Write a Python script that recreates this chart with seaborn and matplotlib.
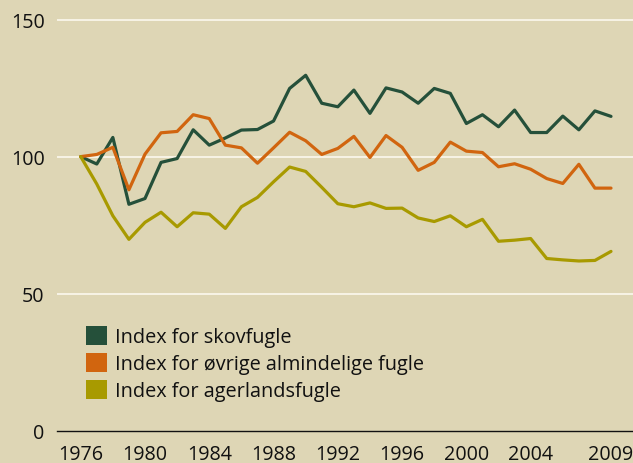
import matplotlib
matplotlib.use("Agg")
import matplotlib.pyplot as plt
from matplotlib.patches import Patch
import seaborn as sns
import pandas as pd

years = list(range(1976, 2010))
skovfugle = [100, 97.3, 107.0, 82.6, 84.7, 97.9, 99.3, 109.8, 104.2, 106.8,
             109.7, 109.9, 113.0, 124.9, 129.7, 119.5, 118.2, 124.3, 115.8, 125.1,
             123.6, 119.5, 124.9, 123.1, 112.1, 115.3, 110.9, 117.0, 108.8, 108.8,
             114.8, 109.8, 116.7, 114.7]
oevrige = [100, 100.8, 103.4, 87.9, 100.9, 108.7, 109.2, 115.3, 113.9, 104.2,
           103.2, 97.6, 103.2, 108.9, 105.8, 100.8, 103.0, 107.4, 99.7, 107.7,
           103.4, 95.0, 97.9, 105.3, 102.0, 101.5, 96.3, 97.4, 95.4, 92.0,
           90.2, 97.2, 88.5, 88.5]
agerland = [100, 90.0, 78.4, 69.8, 76.0, 79.7, 74.4, 79.5, 79.0, 73.8,
            81.7, 85.1, 90.8, 96.2, 94.6, 88.8, 82.8, 81.7, 83.1, 81.1,
            81.2, 77.6, 76.3, 78.4, 74.4, 77.1, 69.1, 69.5, 70.1, 62.8,
            62.3, 61.9, 62.1, 65.4]

series_labels = ["Index for skovfugle", "Index for øvrige almindelige fugle",
                 "Index for agerlandsfugle"]
colors = ["#25503a", "#d1650f", "#a89a00"]
tick_years = [1976, 1980, 1984, 1988, 1992, 1996, 2000, 2004, 2009]
y_ticks = [0, 50, 100, 150]

df = pd.DataFrame({
    "year": years * 3,
    "index": skovfugle + oevrige + agerland,
    "serie": [series_labels[0]] * len(years) + [series_labels[1]] * len(years)
             + [series_labels[2]] * len(years),
})

bg = "#ded6b5"
sns.set_style("white")
plt.rcParams["font.family"] = ["Open Sans", "DejaVu Sans"]

fig = plt.figure(figsize=(6.33, 4.64), dpi=100, facecolor=bg)
ax = fig.add_axes([0.09005, 0.07004, 0.90995, 0.9731 - 0.07004])
ax.set_facecolor(bg)

for yv in y_ticks[1:]:
    ax.axhline(yv, color="#fbf8ee", lw=1.2, zorder=1)

sns.lineplot(data=df, x="year", y="index", hue="serie", palette=colors,
             hue_order=series_labels, linewidth=2.3, ax=ax, legend=False,
             zorder=3)

ax.set_xlim(1974.525, 2010.369)
ax.set_ylim(0, 153)
ax.set_xticks(tick_years)
ax.set_xticklabels([str(t) for t in tick_years], fontsize=14.2, color="#111111")
ax.set_yticks(y_ticks)
ax.set_yticklabels([str(t) for t in y_ticks], fontsize=14.2, color="#111111")
ax.tick_params(axis="x", direction="out", length=6.5, width=1.0, color="#111111", pad=3)
ax.tick_params(axis="y", length=0, pad=9)
ax.set_xlabel("")
ax.set_ylabel("")
for s in ["top", "right", "left"]:
    ax.spines[s].set_visible(False)
ax.spines["bottom"].set_color("#111111")
ax.spines["bottom"].set_linewidth(1.0)
ax.grid(False)

handles = [Patch(facecolor=c, edgecolor="none") for c in colors]
leg = ax.legend(handles, series_labels, loc="upper left",
                bbox_to_anchor=((86 - 57) / 576, (431.5 - 327) / (431.5 - 12.5)),
                frameon=False, fontsize=14.3, handlelength=1.06, handleheight=1.06,
                handletextpad=0.42, labelspacing=0.3, borderpad=0, borderaxespad=0)
for t in leg.get_texts():
    t.set_color("#111111")

fig.savefig("out.png", dpi=100, facecolor=bg)
